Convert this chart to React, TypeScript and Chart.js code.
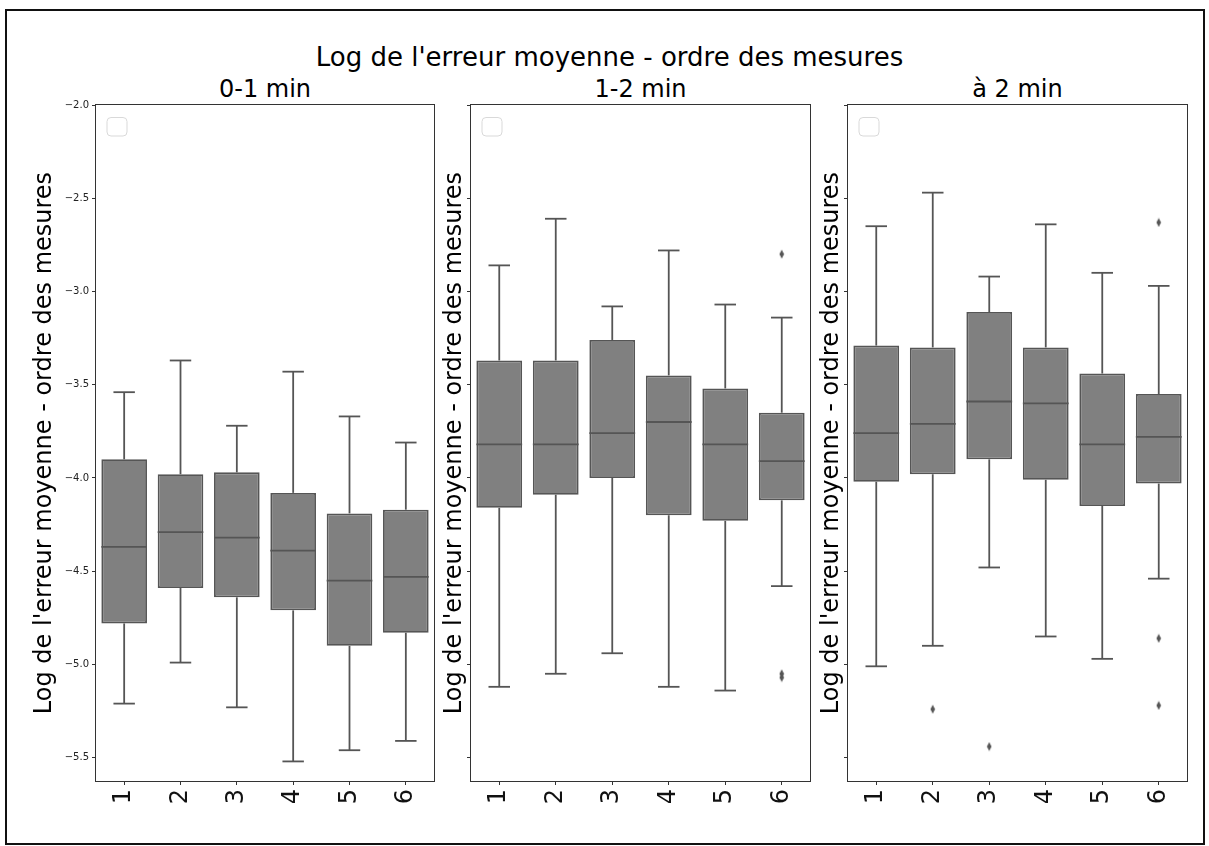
import React, { useEffect, useRef } from "react";
import { Chart, registerables } from "chart.js";

Chart.register(...registerables);

// ---------- data ----------
const categories = ["1", "2", "3", "4", "5", "6"];
const yTickValues = [-5.5, -5.0, -4.5, -4.0, -3.5, -3.0, -2.5, -2.0];
const yMin = -5.625;
const yMax = -2.0;

const mainTitle = "Log de l'erreur moyenne - ordre des mesures";
const yAxisLabel = "Log de l'erreur moyenne - ordre des mesures";
const panelTitles = ["0-1 min", "1-2 min", "à 2 min"];

// panel 1 : 0-1 min
const p1Low = [-5.21, -4.99, -5.23, -5.52, -5.46, -5.41];
const p1Q1 = [-4.78, -4.59, -4.64, -4.71, -4.9, -4.83];
const p1Median = [-4.37, -4.29, -4.32, -4.39, -4.55, -4.53];
const p1Q3 = [-3.9, -3.98, -3.97, -4.08, -4.19, -4.17];
const p1High = [-3.54, -3.37, -3.72, -3.43, -3.67, -3.81];
const p1OutlierCat: string[] = [];
const p1OutlierVal: number[] = [];

// panel 2 : 1-2 min
const p2Low = [-5.12, -5.05, -4.94, -5.12, -5.14, -4.58];
const p2Q1 = [-4.16, -4.09, -4.0, -4.2, -4.23, -4.12];
const p2Median = [-3.82, -3.82, -3.76, -3.7, -3.82, -3.91];
const p2Q3 = [-3.37, -3.37, -3.26, -3.45, -3.52, -3.65];
const p2High = [-2.86, -2.61, -3.08, -2.78, -3.07, -3.14];
const p2OutlierCat = ["6", "6", "6"];
const p2OutlierVal = [-2.8, -5.05, -5.07];

// panel 3 : à 2 min
const p3Low = [-5.01, -4.9, -4.48, -4.85, -4.97, -4.54];
const p3Q1 = [-4.02, -3.98, -3.9, -4.01, -4.15, -4.03];
const p3Median = [-3.76, -3.71, -3.59, -3.6, -3.82, -3.78];
const p3Q3 = [-3.29, -3.3, -3.11, -3.3, -3.44, -3.55];
const p3High = [-2.65, -2.47, -2.92, -2.64, -2.9, -2.97];
const p3OutlierCat = ["2", "3", "6", "6", "6"];
const p3OutlierVal = [-5.24, -5.44, -2.63, -4.86, -5.22];

// ---------- style ----------
const FONT = "'DejaVu Sans', 'Liberation Sans', sans-serif";
const BOX_FILL = "#808080";
const LINE = "#555555";
const LINE_W = 1.8;
const FRAME = "#333333";

type Stats = {
  low: number[];
  q1: number[];
  median: number[];
  q3: number[];
  high: number[];
  outCat: string[];
  outVal: number[];
};

const panels: { title: string; stats: Stats; left: number; width: number; yWidth: number; titlePad: number; tickLabels: boolean }[] = [
  {
    title: panelTitles[0],
    stats: { low: p1Low, q1: p1Q1, median: p1Median, q3: p1Q3, high: p1High, outCat: p1OutlierCat, outVal: p1OutlierVal },
    left: 20, width: 420, yWidth: 76, titlePad: 10, tickLabels: true,
  },
  {
    title: panelTitles[1],
    stats: { low: p2Low, q1: p2Q1, median: p2Median, q3: p2Q3, high: p2High, outCat: p2OutlierCat, outVal: p2OutlierVal },
    left: 440, width: 376, yWidth: 31, titlePad: 0, tickLabels: false,
  },
  {
    title: panelTitles[2],
    stats: { low: p3Low, q1: p3Q1, median: p3Median, q3: p3Q3, high: p3High, outCat: p3OutlierCat, outVal: p3OutlierVal },
    left: 816, width: 377, yWidth: 32, titlePad: 1, tickLabels: false,
  },
];

const CANVAS_TOP = 96;
const CANVAS_H = 734;

function makeDiamond(): HTMLCanvasElement {
  const c = document.createElement("canvas");
  c.width = 6;
  c.height = 10;
  const g = c.getContext("2d")!;
  g.fillStyle = LINE;
  g.beginPath();
  g.moveTo(3, 0.5);
  g.lineTo(5.3, 5);
  g.lineTo(3, 9.5);
  g.lineTo(0.7, 5);
  g.closePath();
  g.fill();
  return c;
}

function BoxPanel(props: { stats: Stats; left: number; width: number; yWidth: number; titlePad: number; tickLabels: boolean }) {
  const ref = useRef<HTMLCanvasElement>(null);
  const { stats, left, width, yWidth, titlePad, tickLabels } = props;

  useEffect(() => {
    if (!ref.current) return;
    const diamond = makeDiamond();

    const extras = {
      id: "boxExtras",
      afterDatasetsDraw(chart: any) {
        const ctx = chart.ctx;
        const ys = chart.scales.y;
        const meta = chart.getDatasetMeta(0);
        ctx.save();
        ctx.strokeStyle = LINE;
        ctx.lineWidth = LINE_W;
        const seg = (x1: number, y1: number, x2: number, y2: number) => {
          ctx.beginPath();
          ctx.moveTo(x1, y1);
          ctx.lineTo(x2, y2);
          ctx.stroke();
        };
        meta.data.forEach((bar: any, i: number) => {
          const x = bar.x;
          const w = bar.width;
          const cw = w * 0.47;
          const pLow = ys.getPixelForValue(stats.low[i]);
          const pQ1 = ys.getPixelForValue(stats.q1[i]);
          const pMed = ys.getPixelForValue(stats.median[i]);
          const pQ3 = ys.getPixelForValue(stats.q3[i]);
          const pHigh = ys.getPixelForValue(stats.high[i]);
          seg(x, pQ3, x, pHigh);
          seg(x, pQ1, x, pLow);
          seg(x - cw / 2, pHigh, x + cw / 2, pHigh);
          seg(x - cw / 2, pLow, x + cw / 2, pLow);
          seg(x - w / 2, pMed, x + w / 2, pMed);
        });
        // frame (spines)
        const a = chart.chartArea;
        ctx.strokeStyle = FRAME;
        ctx.lineWidth = 1;
        ctx.strokeRect(a.left - 0.5, a.top - 0.5, a.right - a.left + 1, a.bottom - a.top + 1);
        // empty legend box
        const lx = a.left + 11;
        const ly = a.top + 12.5;
        const lw = 20;
        const lh = 18.5;
        const r = 4;
        ctx.beginPath();
        ctx.moveTo(lx + r, ly);
        ctx.lineTo(lx + lw - r, ly);
        ctx.quadraticCurveTo(lx + lw, ly, lx + lw, ly + r);
        ctx.lineTo(lx + lw, ly + lh - r);
        ctx.quadraticCurveTo(lx + lw, ly + lh, lx + lw - r, ly + lh);
        ctx.lineTo(lx + r, ly + lh);
        ctx.quadraticCurveTo(lx, ly + lh, lx, ly + lh - r);
        ctx.lineTo(lx, ly + r);
        ctx.quadraticCurveTo(lx, ly, lx + r, ly);
        ctx.closePath();
        ctx.fillStyle = "rgba(255,255,255,0.8)";
        ctx.fill();
        ctx.strokeStyle = "#d9d9d9";
        ctx.lineWidth = 1;
        ctx.stroke();
        ctx.restore();
      },
    };

    const chart = new Chart(ref.current, {
      type: "bar",
      data: {
        labels: categories,
        datasets: [
          {
            type: "bar",
            data: stats.q1.map((q, i) => [q, stats.q3[i]]) as any,
            backgroundColor: BOX_FILL,
            borderColor: LINE,
            borderWidth: LINE_W,
            borderSkipped: false,
            barPercentage: 0.81,
            categoryPercentage: 1,
          } as any,
          {
            type: "scatter",
            data: stats.outCat.map((c, i) => ({ x: c, y: stats.outVal[i] })) as any,
            pointStyle: diamond as any,
            pointRadius: 4,
            showLine: false,
          } as any,
        ],
      },
      options: {
        responsive: false,
        animation: false,
        events: [],
        layout: { padding: { left: 0, right: 6, top: 8, bottom: 0 } },
        plugins: {
          legend: { display: false },
          tooltip: { enabled: false },
          title: { display: false },
        },
        scales: {
          x: {
            type: "category",
            offset: true,
            grid: {
              display: true,
              drawOnChartArea: false,
              drawTicks: true,
              tickLength: 4,
              tickColor: FRAME,
              offset: false,
            },
            border: { display: false },
            ticks: {
              minRotation: 90,
              maxRotation: 90,
              autoSkip: false,
              padding: 4,
              color: "#111",
              font: { family: FONT, size: 24 },
            },
            afterFit: (s: any) => {
              s.height = 49;
            },
          },
          y: {
            type: "linear",
            min: yMin,
            max: yMax,
            afterBuildTicks: (s: any) => {
              s.ticks = yTickValues.map((v) => ({ value: v }));
            },
            grid: {
              display: true,
              drawOnChartArea: false,
              drawTicks: true,
              tickLength: 4,
              tickColor: FRAME,
            },
            border: { display: false },
            ticks: {
              color: tickLabels ? "#222" : "rgba(0,0,0,0)",
              padding: 3,
              font: { family: FONT, size: 10 },
              callback: (v: any) => Number(v).toFixed(1).replace("-", "\u2212"),
            },
            title: {
              display: true,
              text: yAxisLabel,
              color: "#000",
              font: { family: FONT, size: 24 },
              padding: { top: titlePad, bottom: 0 },
            },
            afterFit: (s: any) => {
              s.width = yWidth;
            },
          },
        },
      } as any,
      plugins: [extras],
    });
    return () => chart.destroy();
  }, []);

  return (
    <canvas
      ref={ref}
      width={width}
      height={CANVAS_H}
      style={{ position: "absolute", left, top: CANVAS_TOP, width, height: CANVAS_H, display: "block" }}
    />
  );
}

export default function App() {
  const titleCenters = [265, 640.5, 1017.5];
  return (
    <div style={{ position: "absolute", left: 0, top: 0, width: 1209, height: 846, background: "#fff", overflow: "hidden" }}>
      <div
        style={{
          position: "absolute",
          left: 5,
          top: 9,
          width: 1200,
          height: 836,
          boxSizing: "border-box",
          border: "2px solid #111",
        }}
      />
      <div
        style={{
          position: "absolute",
          left: 609.5 - 400,
          width: 800,
          top: 43.7,
          textAlign: "center",
          fontFamily: FONT,
          fontSize: 26,
          lineHeight: "26px",
          color: "#000",
          whiteSpace: "nowrap",
        }}
      >
        {mainTitle}
      </div>
      {panels.map((p, i) => (
        <div
          key={"t" + i}
          style={{
            position: "absolute",
            left: titleCenters[i] - 150,
            width: 300,
            top: 77.4,
            textAlign: "center",
            fontFamily: FONT,
            fontSize: 24,
            lineHeight: "24px",
            color: "#000",
            whiteSpace: "nowrap",
          }}
        >
          {p.title}
        </div>
      ))}
      {panels.map((p, i) => (
        <BoxPanel
          key={"p" + i}
          stats={p.stats}
          left={p.left}
          width={p.width}
          yWidth={p.yWidth}
          titlePad={p.titlePad}
          tickLabels={p.tickLabels}
        />
      ))}
    </div>
  );
}
